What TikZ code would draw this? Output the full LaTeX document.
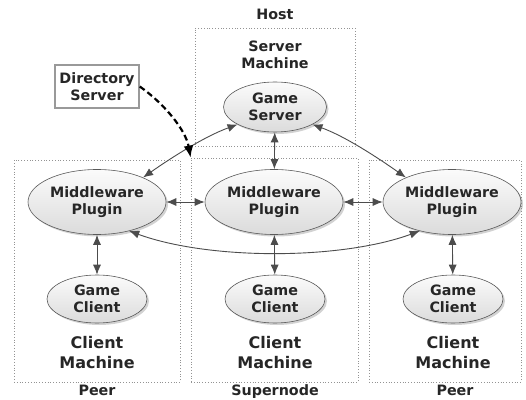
\documentclass[tikz,border=0pt]{standalone}
\usepackage{fontspec}
\setmainfont{DejaVu Sans}
\usetikzlibrary{arrows.meta,shadows,shapes.geometric}
\begin{document}
\begin{tikzpicture}[x=1pt,y=1pt,
  txt/.style={text=black!85, font=\bfseries\fontsize{14.3}{17.5}\selectfont, align=center, inner sep=0pt},
  bigtxt/.style={txt, font=\bfseries\fontsize{16}{20}\selectfont},
  grp/.style={draw=gray!85, dotted, line width=0.8pt, rectangle, inner sep=0pt},
  oval/.style={ellipse, draw=gray!70!black, line width=0.6pt, top color=gray!3, bottom color=gray!28,
    drop shadow={opacity=0.35, shadow xshift=2pt, shadow yshift=-2pt}, txt},
  mwsize/.style={minimum width=138pt, minimum height=65pt},
  gcsize/.style={minimum width=100pt, minimum height=48pt},
  dbox/.style={rectangle, draw=gray!80, line width=1.5pt, fill=white, minimum width=84pt, minimum height=43pt, txt},
  arr/.style={draw=black!70, line width=0.9pt, {Latex[length=10pt,width=8pt]}-{Latex[length=10pt,width=8pt]}},
  dsh/.style={draw=black, line width=2.2pt, dash pattern=on 6pt off 3.5pt, -{Latex[length=12pt,width=10pt]}}
]
\useasboundingbox (0,0) rectangle (526,399);
\fill[white] (0,0) rectangle (526,399);

% group boxes
\node[grp, minimum width=160pt, minimum height=118pt] (host) at (275,312) {};
\node[grp, minimum width=166pt, minimum height=222pt] (lbox) at (97,128) {};
\node[grp, minimum width=167pt, minimum height=224pt] (mbox) at (274.5,129) {};
\node[grp, minimum width=152pt, minimum height=222pt] (rbox) at (445,128) {};

% labels
\node[txt, anchor=base] (hostl) at (275,379) {Host};
\node[txt, anchor=base] (lpeer) at (97,4) {Peer};
\node[txt, anchor=base] (snode) at (275,4) {Supernode};
\node[txt, anchor=base] (rpeer) at (455,4) {Peer};
\node[txt] (smach) at (275,344) {Server\\Machine};

% directory
\node[dbox] (ds) at (97,312.5) {Directory\\Server};

% ellipses
\node[oval, minimum width=103pt, minimum height=50pt] (gs) at (275,292) {Game\\Server};
\node[oval, mwsize] (lmw) at (97,197) {Middleware\\Plugin};
\node[oval, mwsize] (mmw) at (274,197) {Middleware\\Plugin};
\node[oval, mwsize] (rmw) at (452,197) {Middleware\\Plugin};
\node[oval, gcsize] (lgc) at (97,100) {Game\\Client};
\node[oval, gcsize] (mgc) at (275,100) {Game\\Client};
\node[oval, gcsize] (rgc) at (453,100) {Game\\Client};

\node[bigtxt] (lcm) at (97,46.5) {Client\\Machine};
\node[bigtxt] (mcm) at (275,46.5) {Client\\Machine};
\node[bigtxt] (rcm) at (453,46.5) {Client\\Machine};

% connectors
\draw[arr] (lmw.-42) .. controls +(-20:85) and +(200:85) .. (rmw.222);
\draw[arr] (gs.205) .. controls +(200:35) and +(35:35) .. (lmw.28);
\draw[arr] (gs.-25) .. controls +(-20:35) and +(145:35) .. (rmw.152);
\draw[arr] (gs) -- (mmw);
\draw[arr] (lmw) -- (mmw);
\draw[arr] (mmw) -- (rmw);
\draw[arr] (lmw) -- (lgc);
\draw[arr] (mmw) -- (mgc);
\draw[arr] (rmw) -- (rgc);
\draw[dsh] (ds.east) .. controls +(-35:30) and +(100:28) .. (mbox.north west);
\end{tikzpicture}
\end{document}
